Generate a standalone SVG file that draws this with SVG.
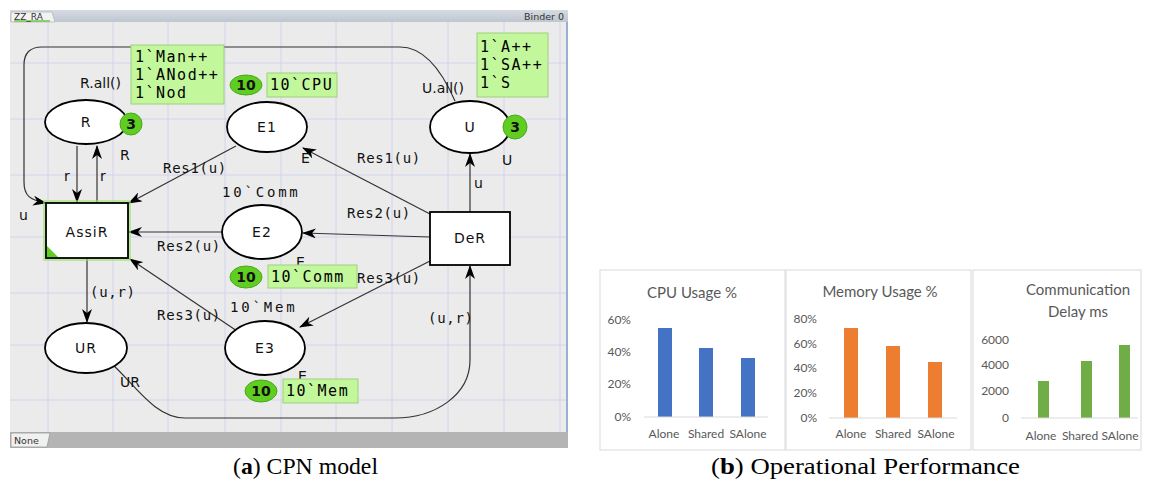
<svg xmlns="http://www.w3.org/2000/svg" width="1150" height="488" viewBox="0 0 1150 488">
<style>
.grid{stroke:#d2d3ef;stroke-width:1}
.pl{fill:#fff;stroke:#000;stroke-width:1.8}
.tr{fill:#fff;stroke:#000;stroke-width:1.8}
.nm{font-family:"DejaVu Sans",sans-serif;font-size:14px;fill:#111;text-anchor:middle;letter-spacing:1px}
.lb{font-family:"DejaVu Sans",sans-serif;font-size:14px;fill:#111}
.ml{font-family:"DejaVu Sans Mono",monospace;font-size:14px;fill:#111;letter-spacing:0.7px}
.mk{fill:#c3f79c;stroke:#9fcf7f;stroke-width:1}
.mt{font-family:"DejaVu Sans Mono",monospace;font-size:15px;fill:#000;letter-spacing:1.5px}
.tok{fill:#5fcd21;stroke:#4aa81a;stroke-width:1}
.tt{font-family:"DejaVu Sans",sans-serif;font-size:14px;font-weight:bold;fill:#111;text-anchor:middle}
.arc{fill:none;stroke:#333;stroke-width:1.2}
.cb{fill:#fff;stroke:#d9d9d9;stroke-width:1}
.ct{font-family:Lato,"Liberation Sans",sans-serif;font-size:15px;fill:#595959;text-anchor:middle}
.ax{font-family:Lato,"Liberation Sans",sans-serif;font-size:12px;fill:#595959;text-anchor:end}
.cat{font-family:Lato,"Liberation Sans",sans-serif;font-size:12px;fill:#595959;text-anchor:middle}
.axl{stroke:#d9d9d9;stroke-width:1}
.cap{font-family:"Liberation Serif",serif;font-size:24px;fill:#000}
</style>
<defs>
<marker id="ah" viewBox="0 0 14 10" refX="13" refY="5" markerWidth="14" markerHeight="10" markerUnits="userSpaceOnUse" orient="auto">
<path d="M0,0 L14,5 L0,10 L4,5 z" fill="#000"/>
</marker>
<linearGradient id="tb" x1="0" y1="0" x2="0" y2="1"><stop offset="0" stop-color="#d6dbe2"/><stop offset="1" stop-color="#bfc6cf"/></linearGradient>
</defs>
<rect width="1150" height="488" fill="#fff"/>
<g id="window">
<rect x="10" y="10" width="558" height="438" fill="#ebebeb"/>
<rect x="10" y="10" width="558" height="12" fill="url(#tb)"/>
<path d="M11,22 L11,12 L52,12 L55,22 z" fill="#f2f2f2" stroke="#b8b8b8" stroke-width="0.8"/>
<line x1="14" y1="21" x2="50" y2="21" stroke="#6cc644" stroke-width="1.5"/>
<text x="14" y="20" font-family="DejaVu Sans,sans-serif" font-size="9" fill="#333">ZZ_RA</text>
<text x="564" y="20" font-family="DejaVu Sans,sans-serif" font-size="9.5" fill="#333" text-anchor="end">Binder 0</text>
<g>
<line class="grid" x1="48" y1="22" x2="48" y2="432"/>
<line class="grid" x1="113" y1="22" x2="113" y2="432"/>
<line class="grid" x1="168" y1="22" x2="168" y2="432"/>
<line class="grid" x1="225" y1="22" x2="225" y2="432"/>
<line class="grid" x1="281" y1="22" x2="281" y2="432"/>
<line class="grid" x1="336" y1="22" x2="336" y2="432"/>
<line class="grid" x1="392" y1="22" x2="392" y2="432"/>
<line class="grid" x1="448" y1="22" x2="448" y2="432"/>
<line class="grid" x1="504" y1="22" x2="504" y2="432"/>
<line class="grid" x1="560" y1="22" x2="560" y2="432"/>
<line class="grid" x1="10" y1="63" x2="567" y2="63"/>
<line class="grid" x1="10" y1="119" x2="567" y2="119"/>
<line class="grid" x1="10" y1="175" x2="567" y2="175"/>
<line class="grid" x1="10" y1="237" x2="567" y2="237"/>
<line class="grid" x1="10" y1="293" x2="567" y2="293"/>
<line class="grid" x1="10" y1="345" x2="567" y2="345"/>
<line class="grid" x1="10" y1="400" x2="567" y2="400"/>
</g>
<line x1="567" y1="22" x2="567" y2="432" stroke="#7d9cc8" stroke-width="1.5"/>
<rect x="10" y="432" width="558" height="16" fill="#b4b4b4"/>
<path d="M11,447 L11,433 L50,433 L47,447 z" fill="#f0f0f0" stroke="#999" stroke-width="0.8"/>
<text x="14" y="444" font-family="DejaVu Sans,sans-serif" font-size="9.5" fill="#333">None</text>
</g>
<g id="connectors">
<path class="arc" d="M77,146 L77,202" marker-end="url(#ah)"/>
<path class="arc" d="M97,203 L97,146" marker-end="url(#ah)"/>
<path class="arc" d="M455,101 C445,78 428,47 400,47 L42,47 Q24,47 24,65 L24,182 C24,196 30,200 46,203" marker-end="url(#ah)"/>
<path class="arc" d="M236,146 L129,203" marker-end="url(#ah)"/>
<path class="arc" d="M430,214 L303,148" marker-end="url(#ah)"/>
<path class="arc" d="M470,212 L470,154" marker-end="url(#ah)"/>
<path class="arc" d="M430,237 L303,233" marker-end="url(#ah)"/>
<path class="arc" d="M222,232 L129,232" marker-end="url(#ah)"/>
<path class="arc" d="M430,261 L300,327" marker-end="url(#ah)"/>
<path class="arc" d="M237,331 L130,259" marker-end="url(#ah)"/>
<path class="arc" d="M87,258 L87,322" marker-end="url(#ah)"/>
<path class="arc" d="M113,365 C135,385 155,418 185,418 L395,418 C435,418 470,395 470,360 L470,266" marker-end="url(#ah)"/>
<text class="lb" x="80" y="88">R.all()</text>
<text class="lb" x="422" y="93">U.all()</text>
<text class="lb" x="64" y="181">r</text>
<text class="lb" x="100" y="181">r</text>
<text class="lb" x="19" y="220">u</text>
<text class="lb" x="474" y="188">u</text>
<text class="ml" x="163" y="173">Res1(u)</text>
<text class="ml" x="357" y="163">Res1(u)</text>
<text class="ml" x="347" y="218">Res2(u)</text>
<text class="ml" x="157" y="251">Res2(u)</text>
<text class="ml" x="357" y="283">Res3(u)</text>
<text class="ml" x="157" y="320">Res3(u)</text>
<text class="ml" x="90" y="297">(u,r)</text>
<text class="ml" x="428" y="323">(u,r)</text>
</g>
<g id="R">
<ellipse class="pl" cx="86" cy="122" rx="41" ry="22"/>
<text class="nm" x="86" y="127">R</text>
<text class="lb" x="120" y="160">R</text>
<rect class="mk" x="131" y="45" width="93" height="59"/>
<text class="mt" x="135" y="62">1`Man++</text>
<text class="mt" x="135" y="80">1`ANod++</text>
<text class="mt" x="135" y="98">1`Nod</text>
<circle class="tok" cx="131" cy="124" r="11"/>
<text class="tt" x="131" y="129">3</text>
</g>
<g id="U">
<ellipse class="pl" cx="470" cy="127" rx="40" ry="26"/>
<text class="nm" x="470" y="132">U</text>
<text class="lb" x="502" y="165">U</text>
<rect class="mk" x="477" y="33" width="71" height="64"/>
<text class="mt" x="480" y="52">1`A++</text>
<text class="mt" x="480" y="70">1`SA++</text>
<text class="mt" x="480" y="88">1`S</text>
<circle class="tok" cx="515" cy="127" r="12"/>
<text class="tt" x="515" y="132">3</text>
</g>
<g id="E1">
<ellipse class="pl" cx="267" cy="127" rx="40" ry="25"/>
<text class="nm" x="267" y="132">E1</text>
<text class="lb" x="301" y="163">E</text>
<rect class="mk" x="267" y="73" width="70" height="24"/>
<text class="mt" x="270" y="90">10`CPU</text>
<ellipse class="tok" cx="246" cy="85" rx="16" ry="10"/>
<text class="tt" x="246" y="90">10</text>
</g>
<g id="E2">
<ellipse class="pl" cx="262" cy="232" rx="40" ry="27"/>
<text class="nm" x="262" y="237">E2</text>
<text class="ml" x="222" y="197" style="letter-spacing:2.8px">10`Comm</text>
<text class="lb" x="296" y="267" font-size="12">E</text>
<rect class="mk" x="268" y="265" width="89" height="23"/>
<text class="mt" x="271" y="282">10`Comm</text>
<ellipse class="tok" cx="246" cy="277" rx="16" ry="11"/>
<text class="tt" x="246" y="282">10</text>
</g>
<g id="E3">
<ellipse class="pl" cx="265" cy="348" rx="40" ry="27"/>
<text class="nm" x="265" y="353">E3</text>
<text class="ml" x="230" y="312" style="letter-spacing:2.8px">10`Mem</text>
<text class="lb" x="298" y="381" font-size="12">E</text>
<rect class="mk" x="283" y="379" width="75" height="24"/>
<text class="mt" x="286" y="396">10`Mem</text>
<ellipse class="tok" cx="261" cy="391" rx="16" ry="11"/>
<text class="tt" x="261" y="396">10</text>
</g>
<g id="UR">
<ellipse class="pl" cx="86" cy="348" rx="41" ry="25"/>
<text class="nm" x="86" y="353">UR</text>
<text class="lb" x="120" y="387">UR</text>
</g>
<g id="AssiR">
<rect x="46" y="203" width="82" height="55" fill="none" stroke="#9be36a" stroke-width="6" opacity="0.6"/>
<rect class="tr" x="46" y="203" width="82" height="55" stroke="#3c7a1e"/>
<path d="M47,257 L47,246 L58,257 z" fill="#5fcd21"/>
<text class="nm" x="87" y="237">AssiR</text>
</g>
<g id="DeR">
<rect class="tr" x="430" y="212" width="80" height="53"/>
<text class="nm" x="470" y="243">DeR</text>
</g>
<g id="chart-cpu">
<rect class="cb" x="600" y="270" width="185" height="180"/>
<text class="ct" x="692" y="298">CPU Usage %</text>
<text class="ax" x="631" y="324">60%</text>
<text class="ax" x="631" y="356">40%</text>
<text class="ax" x="631" y="388">20%</text>
<text class="ax" x="631" y="421">0%</text>
<rect x="658" y="328" width="14" height="89" fill="#4472c4"/>
<rect x="699" y="348" width="14" height="69" fill="#4472c4"/>
<rect x="741" y="358" width="14" height="59" fill="#4472c4"/>
<line class="axl" x1="644" y1="417" x2="768" y2="417"/>
<text class="cat" x="664" y="438">Alone</text>
<text class="cat" x="706" y="438">Shared</text>
<text class="cat" x="748" y="438">SAlone</text>
</g>
<g id="chart-mem">
<rect class="cb" x="786" y="270" width="185" height="180"/>
<text class="ct" x="880" y="297">Memory Usage %</text>
<text class="ax" x="817" y="323">80%</text>
<text class="ax" x="817" y="348">60%</text>
<text class="ax" x="817" y="372">40%</text>
<text class="ax" x="817" y="397">20%</text>
<text class="ax" x="817" y="422">0%</text>
<rect x="844" y="328" width="14" height="90" fill="#ed7d31"/>
<rect x="886" y="346" width="14" height="72" fill="#ed7d31"/>
<rect x="928" y="362" width="14" height="56" fill="#ed7d31"/>
<line class="axl" x1="829" y1="418" x2="957" y2="418"/>
<text class="cat" x="851" y="438">Alone</text>
<text class="cat" x="893" y="438">Shared</text>
<text class="cat" x="936" y="438">SAlone</text>
</g>
<g id="chart-comm">
<rect class="cb" x="973" y="270" width="168" height="180"/>
<text class="ct" x="1078" y="295">Communication</text>
<text class="ct" x="1078" y="317">Delay ms</text>
<text class="ax" x="1009" y="344">6000</text>
<text class="ax" x="1009" y="369">4000</text>
<text class="ax" x="1009" y="395">2000</text>
<text class="ax" x="1009" y="422">0</text>
<rect x="1038" y="381" width="11" height="37" fill="#70ad47"/>
<rect x="1081" y="361" width="11" height="57" fill="#70ad47"/>
<rect x="1119" y="345" width="11" height="73" fill="#70ad47"/>
<line class="axl" x1="1021" y1="418" x2="1138" y2="418"/>
<text class="cat" x="1041" y="440">Alone</text>
<text class="cat" x="1080" y="440">Shared</text>
<text class="cat" x="1120" y="440">SAlone</text>
</g>
<g id="captions">
<text class="cap" x="233" y="474" textLength="145" lengthAdjust="spacingAndGlyphs">(<tspan font-weight="bold">a</tspan>) CPN model</text>
<text class="cap" x="711" y="474" textLength="309" lengthAdjust="spacingAndGlyphs">(<tspan font-weight="bold">b</tspan>) Operational Performance</text>
</g>
</svg>
